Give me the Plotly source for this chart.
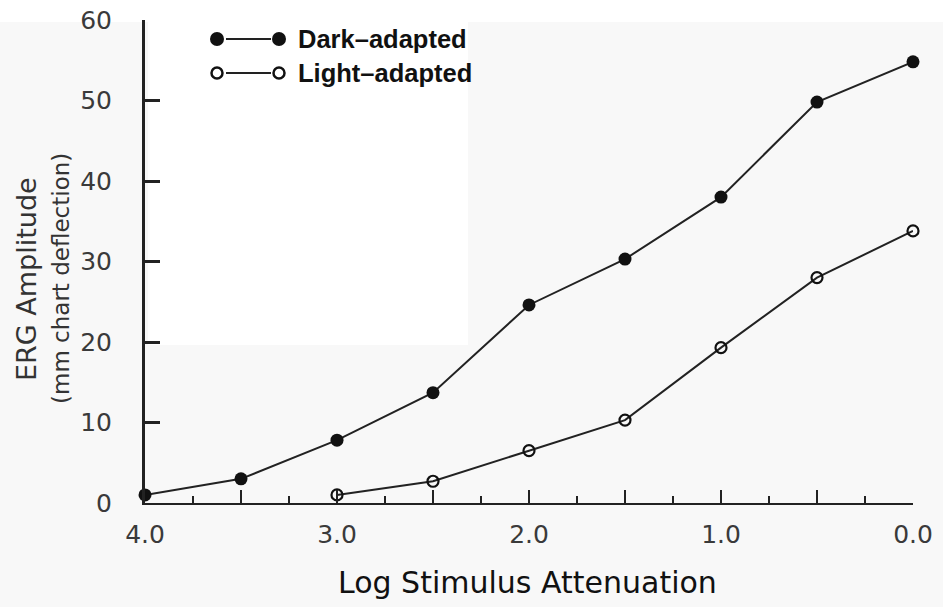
import plotly.graph_objects as go

# Data
x_dark = [4.0, 3.5, 3.0, 2.5, 2.0, 1.5, 1.0, 0.5, 0.0]
y_dark = [1.0, 3.0, 7.8, 13.7, 24.6, 30.3, 38.0, 49.8, 54.8]
x_light = [3.0, 2.5, 2.0, 1.5, 1.0, 0.5, 0.0]
y_light = [1.0, 2.7, 6.5, 10.3, 19.3, 28.0, 33.8]

x_tickvals = [4.0, 3.5, 3.0, 2.5, 2.0, 1.5, 1.0, 0.5, 0.0]
x_ticktext = ["4.0", "", "3.0", "", "2.0", "", "1.0", "", "0.0"]
y_tickvals = [0, 10, 20, 30, 40, 50, 60]
y_ticktext = ["0", "10", "20", "30", "40", "50", "60"]

legend_labels = ["Dark\u2013adapted", "Light\u2013adapted"]

W, H = 943, 607
L, R, T, B = 145, 30, 20, 104
PW, PH = W - L - R, H - T - B

def px(xp):
    return (xp - L) / PW

def py(yp):
    return (H - B - yp) / PH

INK = "#222222"
TICK_FONT = dict(family="DejaVu Sans", size=25, color="#3a3a3a")

fig = go.Figure()
fig.add_trace(go.Scatter(
    x=x_dark, y=y_dark, mode="lines+markers",
    line=dict(color=INK, width=2),
    marker=dict(symbol="circle", size=13, color="#111111"),
    cliponaxis=False, showlegend=False, hoverinfo="skip"))
fig.add_trace(go.Scatter(
    x=x_light, y=y_light, mode="lines+markers",
    line=dict(color=INK, width=2),
    marker=dict(symbol="circle-open", size=11, color="#111111", line=dict(width=2.2)),
    cliponaxis=False, showlegend=False, hoverinfo="skip"))

shapes = []
# scanning artefact backgrounds (white areas)
shapes.append(dict(type="rect", xref="paper", yref="paper", layer="below",
                   x0=px(0), x1=px(W), y0=py(22), y1=py(0),
                   fillcolor="white", line=dict(width=0)))
shapes.append(dict(type="rect", xref="paper", yref="paper", layer="below",
                   x0=px(148), x1=px(468), y0=py(345), y1=py(22),
                   fillcolor="white", line=dict(width=0)))

# custom legend
rows = [(39, True), (73, False)]
annotations = []
for (ly, filled), label in zip(rows, legend_labels):
    yc = py(ly)
    shapes.append(dict(type="line", xref="paper", yref="paper",
                       x0=px(226), x1=px(271), y0=yc, y1=yc,
                       line=dict(color=INK, width=2)))
    for cx in (217, 279):
        r = 7 if filled else 5.5
        shapes.append(dict(type="circle", xref="paper", yref="paper",
                           xsizemode="pixel", ysizemode="pixel",
                           xanchor=px(cx), yanchor=yc,
                           x0=-r, x1=r, y0=-r, y1=r,
                           fillcolor="#111111" if filled else "white",
                           line=dict(color="#111111", width=0 if filled else 2.5)))
    annotations.append(dict(xref="paper", yref="paper", x=px(296), y=yc,
                            xanchor="left", yanchor="middle", showarrow=False,
                            text="<b>" + label + "</b>",
                            font=dict(family="Liberation Sans", size=25.5, color="#111111")))

annotations.append(dict(xref="paper", yref="paper", x=px(527), y=py(582),
                        xanchor="center", yanchor="middle", showarrow=False,
                        text="Log Stimulus Attenuation",
                        font=dict(family="DejaVu Sans", size=30, color="#111111")))
annotations.append(dict(xref="paper", yref="paper", x=px(27), y=py(279),
                        xanchor="center", yanchor="middle", showarrow=False,
                        textangle=-90, text="ERG Amplitude",
                        font=dict(family="DejaVu Sans", size=27, color="#333333")))
annotations.append(dict(xref="paper", yref="paper", x=px(61), y=py(279),
                        xanchor="center", yanchor="middle", showarrow=False,
                        textangle=-90, text="(mm chart deflection)",
                        font=dict(family="DejaVu Sans", size=23, color="#333333")))

fig.update_layout(
    width=W, height=H,
    margin=dict(l=L, r=R, t=T, b=B, pad=0),
    paper_bgcolor="#f8f8f8",
    plot_bgcolor="rgba(0,0,0,0)",
    shapes=shapes, annotations=annotations,
    xaxis=dict(range=[4.0, 0.0], tickvals=x_tickvals, ticktext=x_ticktext,
               automargin=False,
               showgrid=False, zeroline=False, showline=True,
               linecolor=INK, linewidth=2,
               ticks="inside", ticklen=13, tickwidth=2, tickcolor=INK,
               minor=dict(ticks="inside", ticklen=7, tickwidth=2, tickcolor=INK,
                          tick0=0, dtick=0.25),
               tickfont=TICK_FONT, ticklabelstandoff=8),
    yaxis=dict(range=[0, 60], tickvals=y_tickvals, ticktext=y_ticktext,
               automargin=False,
               showgrid=False, zeroline=False, showline=True,
               linecolor=INK, linewidth=3,
               ticks="inside", ticklen=15, tickwidth=2.5, tickcolor=INK,
               tickfont=TICK_FONT, ticklabelstandoff=25),
)

fig.write_html("out.html", config={"displayModeBar": False},
               post_script="document.body.style.margin='0px';")
